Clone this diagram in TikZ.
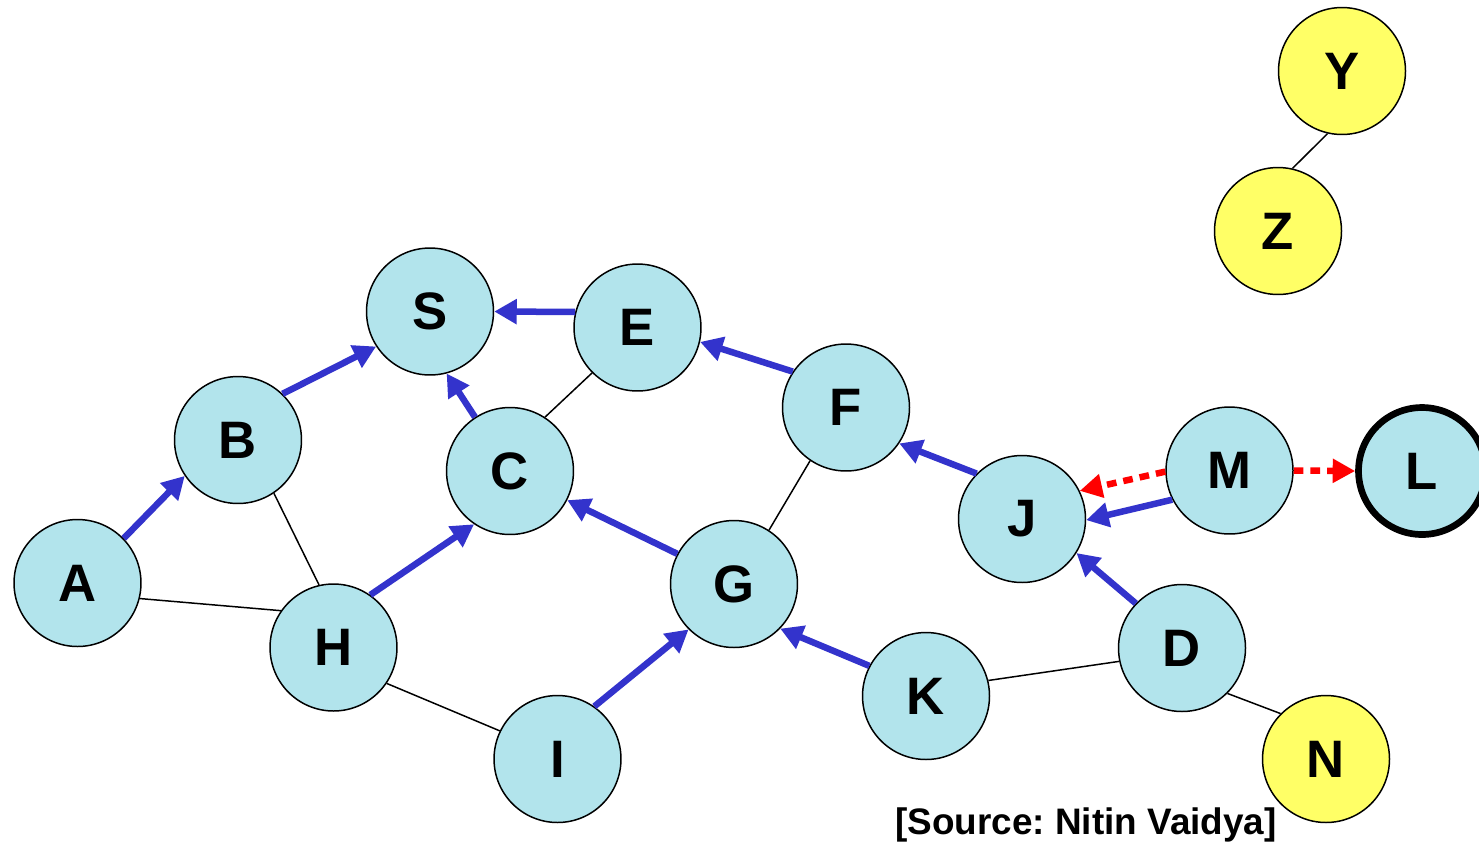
\documentclass[tikz,border=0pt]{standalone}
\usepackage{fontspec}
\setmainfont{Liberation Sans}
\usetikzlibrary{arrows.meta}
\definecolor{nodecyan}{RGB}{178,228,236}
\definecolor{nodeyellow}{RGB}{255,255,102}
\definecolor{arrowblue}{RGB}{51,51,204}
\frenchspacing
\begin{document}
\begin{tikzpicture}[x=0.02cm, y=-0.02cm,
  host/.style={circle, draw=black, line width=0.85pt, fill=nodecyan, minimum size=2.54cm, inner sep=0pt, font=\fontsize{30}{36}\selectfont\bfseries},
  outsider/.style={host, fill=nodeyellow},
  route/.style={draw=arrowblue, line width=3.7pt, -{Triangle[length=0.45cm,width=0.48cm]}},
  probe/.style={draw=red, line width=3.7pt, dash pattern=on 5.5pt off 4pt, -{Triangle[length=0.45cm,width=0.46cm]}},
  link/.style={draw=black, line width=0.85pt}]
\clip (0,0) rectangle (1479,846);
\fill[white] (0,0) rectangle (1479,846);
% nodes
\node[host] (A) at (77.5,583) {A};
\node[host] (B) at (238,440) {B};
\node[host] (S) at (430,311.5) {S};
\node[host] (E) at (637.5,327.5) {E};
\node[host] (C) at (510,471) {C};
\node[host] (F) at (846,407.5) {F};
\node[host] (H) at (333.5,647.5) {H};
\node[host] (G) at (734,584) {G};
\node[host] (I) at (557.5,759) {I};
\node[host] (K) at (926,696) {K};
\node[host] (J) at (1022,519) {J};
\node[host] (M) at (1229.5,470.5) {M};
\node[host, line width=3.8pt] (L) at (1422,471) {L};
\node[host] (D) at (1182,648) {D};
\node[outsider] (N) at (1326,759) {N};
\node[outsider] (Y) at (1342,71) {Y};
\node[outsider] (Z) at (1278,231) {Z};
% thin links
\draw[link] (B.304) -- (H.103);
\draw[link] (A.346) -- (H.145);
\draw[link] (H.326) -- (I.154);
\draw[link] (C.57) -- (E.225);
\draw[link] (G.57) -- (F.236);
\draw[link] (K.14) -- (D.192);
\draw[link] (D.315) -- (N.135);
\draw[link] (Y.257) -- (Z.77);
% route arrows
\draw[route] (A.44) -- (B.214);
\draw[route] (B.46) -- (S.213);
\draw[route] (C.123) -- (S.285);
\draw[route] (E.166) -- (S.0);
\draw[route] (H.55) -- (C.236);
\draw[route] (G.152) -- (C.333);
\draw[route] (I.55) -- (G.225);
\draw[route] (K.152) -- (G.316);
\draw[route] (F.146) -- (E.347);
\draw[route] (J.135) -- (F.326);
\draw[route] (D.136) -- (J.328);
\draw[route] (M.207) -- (J.359);
% probe arrows
\draw[probe] (M.181) -- (J.26);
\draw[probe] (M.0) -- (L.180);
% source
\node[anchor=base west, inner sep=0pt, font=\fontsize{21}{25}\selectfont\bfseries] (src) at (895,834) {[Source: Nitin Vaidya]};
\end{tikzpicture}
\end{document}
